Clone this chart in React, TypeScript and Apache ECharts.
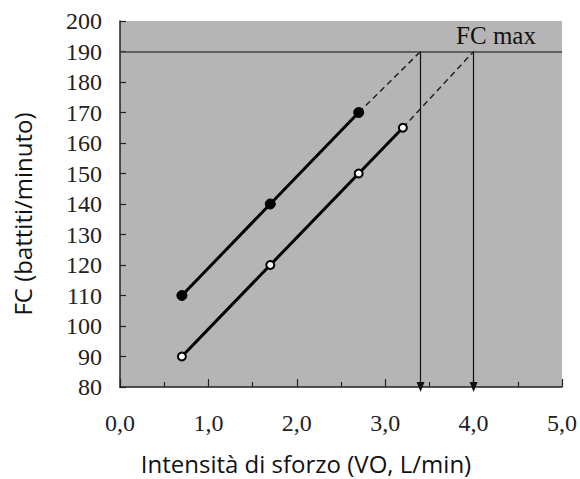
import React, { useEffect, useRef } from "react";
import * as echarts from "echarts";

const xTicks = [0, 1, 2, 3, 4, 5];
const yRange = [80, 200];
const fcMax = 190;
const seriesA = [
  [0.7, 110],
  [1.7, 140],
  [2.7, 170],
];
const seriesAExt = [
  [2.7, 170],
  [3.4, 190],
];
const seriesB = [
  [0.7, 90],
  [1.7, 120],
  [2.7, 150],
  [3.2, 165],
];
const seriesBExt = [
  [3.2, 165],
  [4.0, 190],
];
const arrowsX = [3.4, 4.0];
const xTitle = "Intensità di sforzo (VO, L/min)";
const yTitle = "FC (battiti/minuto)";
const fcLabel = "FC max";

export default function App() {
  const ref = useRef<HTMLDivElement>(null);
  useEffect(() => {
    if (!ref.current) return;
    const chart = echarts.init(ref.current, null, { renderer: "svg" });
    const serif = "Liberation Serif";
    chart.setOption({
      animation: false,
      grid: {
        left: 120,
        right: 17,
        top: 21,
        bottom: 92,
        show: true,
        backgroundColor: "#b5b5b5",
        borderWidth: 0,
      },
      xAxis: {
        type: "value",
        min: xTicks[0],
        max: xTicks[xTicks.length - 1],
        interval: 1,
        axisLine: { show: true, lineStyle: { color: "#222", width: 1.5 } },
        axisTick: { show: true, inside: true, length: 8, lineStyle: { color: "#222", width: 1.2 } },
        minorTick: { show: true, splitNumber: 2, length: 5, lineStyle: { color: "#222", width: 1.2 } },
        splitLine: { show: false },
        axisLabel: {
          margin: 24,
          fontFamily: serif,
          fontSize: 24,
          color: "#222",
          formatter: (v: number) => v.toFixed(1).replace(".", ","),
        },
      },
      yAxis: {
        type: "value",
        min: yRange[0],
        max: yRange[1],
        interval: 10,
        axisLine: { show: true, lineStyle: { color: "#222", width: 1.5 } },
        axisTick: { show: true, inside: true, length: 6, lineStyle: { color: "#222", width: 1.2 } },
        splitLine: { show: false },
        axisLabel: {
          margin: 18,
          fontFamily: serif,
          fontSize: 24,
          color: "#222",
        },
      },
      graphic: [
        {
          type: "text",
          x: 306,
          y: 463,
          style: {
            text: xTitle,
            fontFamily: "Open Sans",
            fontSize: 24,
            fill: "#111",
            textAlign: "center",
            textVerticalAlign: "middle",
          },
        },
        {
          type: "text",
          x: 22,
          y: 214,
          rotation: Math.PI / 2,
          style: {
            text: yTitle,
            fontFamily: "Open Sans",
            fontSize: 24,
            fill: "#111",
            textAlign: "center",
            textVerticalAlign: "middle",
          },
        },
        {
          type: "text",
          x: 496,
          y: 35,
          style: {
            text: fcLabel,
            fontFamily: serif,
            fontSize: 25,
            fill: "#111",
            textAlign: "center",
            textVerticalAlign: "middle",
          },
        },
      ],
      series: [
        {
          type: "line",
          data: [],
          markLine: {
            silent: true,
            symbol: ["none", "none"],
            label: { show: false },
            lineStyle: { color: "#444", width: 1.5, type: "solid" },
            data: [[{ coord: [xTicks[0], fcMax] }, { coord: [xTicks[xTicks.length - 1], fcMax] }]],
          },
        },
        {
          type: "line",
          data: [],
          markLine: {
            silent: true,
            symbol: ["none", "triangle"],
            symbolSize: [8, 10],
            symbolRotate: 180,
            label: { show: false },
            lineStyle: { color: "#111", width: 1.2, type: "solid" },
            data: arrowsX.map((x) => [{ coord: [x, fcMax] }, { coord: [x, yRange[0]] }]),
          },
        },
        {
          type: "line",
          data: seriesAExt,
          showSymbol: false,
          symbol: "none",
          lineStyle: { color: "#222", width: 1.5, type: [6, 4] },
        },
        {
          type: "line",
          data: seriesBExt,
          showSymbol: false,
          symbol: "none",
          lineStyle: { color: "#222", width: 1.5, type: [6, 4] },
        },
        {
          type: "line",
          data: seriesA,
          symbol: "circle",
          symbolSize: 10,
          itemStyle: { color: "#000", borderColor: "#000", borderWidth: 1 },
          lineStyle: { color: "#000", width: 3 },
        },
        {
          type: "line",
          data: seriesB,
          symbol: "circle",
          symbolSize: 8,
          itemStyle: { color: "#fff", borderColor: "#000", borderWidth: 2 },
          lineStyle: { color: "#000", width: 3 },
        },
      ],
    });
    return () => chart.dispose();
  }, []);
  return (
    <div
      ref={ref}
      style={{ position: "absolute", left: 0, top: 0, width: 580, height: 479 }}
    />
  );
}
